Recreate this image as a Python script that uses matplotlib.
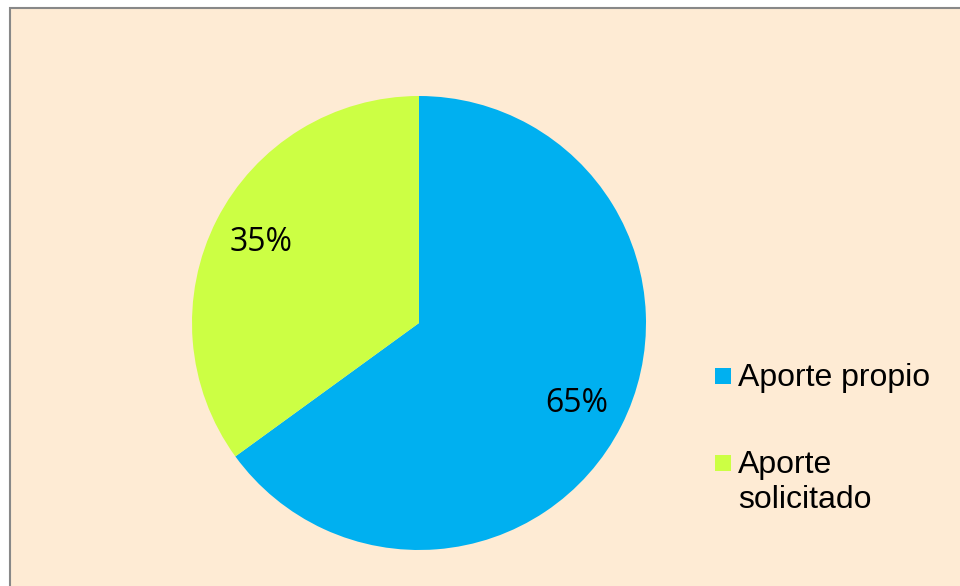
import matplotlib.pyplot as plt
from matplotlib.patches import Rectangle

labels = ["Aporte propio", "Aporte\nsolicitado"]
values = [65, 35]
colors = ["#00B0F0", "#CCFF44"]

W, H = 960, 586
fig = plt.figure(figsize=(W / 100, H / 100), dpi=100)
fig.patch.set_facecolor("white")

# chart area background with border (runs off right/bottom edge)
fig.add_artist(Rectangle((10 / W, -0.1), 1.2, 1 - 8 / H + 0.1, transform=fig.transFigure,
                         facecolor="#FEEBD4", edgecolor="#888888", linewidth=1.5, zorder=-5))

cx, cy, r = 419, 323, 227
ax = fig.add_axes([(cx - r) / W, (H - cy - r) / H, 2 * r / W, 2 * r / H])
ax.set_facecolor("none")
ax.set_zorder(2)
wedges, texts, autotexts = ax.pie(values, colors=colors, startangle=90, counterclock=False,
                                  autopct="%1.0f%%", pctdistance=0.78, radius=1,
                                  textprops=dict(family="Open Sans", fontsize=23, color="black"))
ax.set_xlim(-1, 1)
ax.set_ylim(-1, 1)
ax.set_aspect("equal")
ax.axis("off")

# legend
sq = 16
tops = [368, 455]
for lab, col, top in zip(labels, colors, tops):
    fig.add_artist(Rectangle((715 / W, (H - top - sq) / H), sq / W, sq / H,
                             transform=fig.transFigure, facecolor=col, edgecolor="none"))
    fig.text(738 / W, (H - top + 5) / H, lab, ha="left", va="top",
             family="Liberation Sans", fontsize=23, linespacing=1.2)

fig.savefig("out.png", dpi=100)
